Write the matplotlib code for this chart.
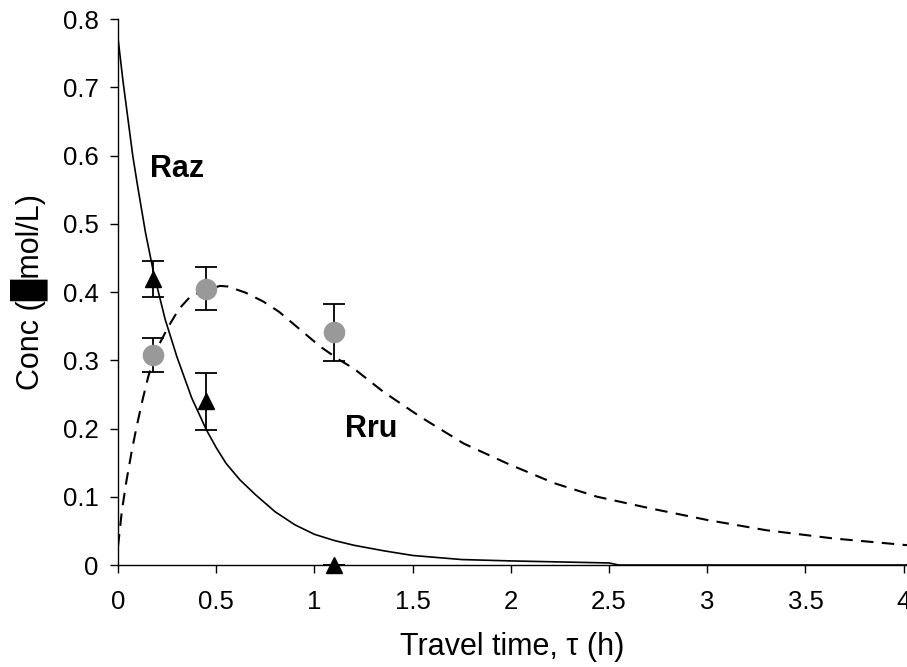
import matplotlib.pyplot as plt

# Model curves
raz_t = [0, 0.025, 0.05, 0.075, 0.1, 0.14, 0.18, 0.24, 0.3, 0.375, 0.45, 0.5,
         0.55, 0.62, 0.7, 0.8, 0.9, 1.0, 1.1, 1.2, 1.35, 1.5, 1.75, 2.0, 2.5,
         2.55, 4.02]
raz_c = [0.772, 0.71, 0.655, 0.60, 0.555, 0.487, 0.43, 0.36, 0.305, 0.245,
         0.198, 0.172, 0.149, 0.125, 0.103, 0.078, 0.059, 0.045, 0.036, 0.029,
         0.021, 0.014, 0.008, 0.006, 0.003, 0.0, 0.0]

rru_t = [0, 0.02, 0.044, 0.07, 0.095, 0.125, 0.154, 0.2, 0.256, 0.31, 0.367,
         0.45, 0.52, 0.56, 0.65, 0.74, 0.82, 0.89, 1.03, 1.13, 1.2, 1.35, 1.54,
         1.76, 1.98, 2.22, 2.44, 2.71, 3.0, 3.3, 3.64, 4.02]
rru_c = [0.027, 0.08, 0.125, 0.167, 0.203, 0.242, 0.276, 0.318, 0.349, 0.375,
         0.393, 0.403, 0.409, 0.408, 0.399, 0.386, 0.371, 0.354, 0.32, 0.30,
         0.288, 0.254, 0.217, 0.178, 0.149, 0.12, 0.10, 0.083, 0.066, 0.051,
         0.039, 0.029]

# Measured points with error bars
obs_t = [0.18, 0.45, 1.1]
raz_obs = [0.419, 0.24, 0.0]
raz_err = [0.026, 0.042, 0.0]
rru_obs = [0.308, 0.405, 0.341]
rru_err = [0.025, 0.031, 0.042]

plt.rcParams["font.family"] = ["Liberation Sans", "DejaVu Sans"]

fig = plt.figure(figsize=(9.07, 6.67), dpi=100)
ax = fig.add_axes([0.1301, 0.1529, 0.8699, 0.8186])

ax.plot(raz_t, raz_c, color="black", lw=1.2, zorder=2)
ax.plot(rru_t, rru_c, color="black", lw=1.5, dashes=(6, 4), zorder=2)

ax.errorbar(obs_t, raz_obs, yerr=raz_err, fmt="none", ecolor="black",
            elinewidth=1.3, capsize=8, capthick=1.3, zorder=3)
ax.errorbar(obs_t, rru_obs, yerr=rru_err, fmt="none", ecolor="black",
            elinewidth=1.3, capsize=8, capthick=1.3, zorder=3)
ax.plot(obs_t, raz_obs, "^", color="black", ms=12, zorder=4, clip_on=False)
ax.plot(obs_t, rru_obs, "o", color="#999999", ms=14.5, zorder=4, clip_on=False)

ax.text(0.163, 0.568, "Raz", fontsize=22, fontweight="bold", va="baseline")
ax.text(1.156, 0.188, "Rru", fontsize=22, fontweight="bold", va="baseline")

ax.set_xlim(0, 4.017)
ax.set_ylim(0, 0.8)
ax.set_xticks([0, 0.5, 1, 1.5, 2, 2.5, 3, 3.5, 4])
ax.set_xticklabels(["0", "0.5", "1", "1.5", "2", "2.5", "3", "3.5", "4"])
ax.set_yticks([0, 0.1, 0.2, 0.3, 0.4, 0.5, 0.6, 0.7, 0.8])
ax.set_yticklabels(["0", "0.1", "0.2", "0.3", "0.4", "0.5", "0.6", "0.7", "0.8"])

for s in ["top", "right"]:
    ax.spines[s].set_visible(False)
for s in ["left", "bottom"]:
    ax.spines[s].set_linewidth(1.0)

ax.tick_params(axis="both", direction="out", length=6, width=1.0,
               labelsize=18.5)
ax.tick_params(axis="x", pad=12)
ax.tick_params(axis="y", pad=8)

ax.set_xlabel("Travel time, τ (h)", fontsize=22)
ax.xaxis.label.set_verticalalignment("baseline")
ax.xaxis.set_label_coords(0.5, -0.164)

ax.set_ylabel("Conc (█mol/L)", fontsize=22)
ax.yaxis.label.set_verticalalignment("center")
ax.yaxis.set_label_coords(-0.113, 0.5)

fig.savefig("out.png", dpi=100)
plt.close(fig)
